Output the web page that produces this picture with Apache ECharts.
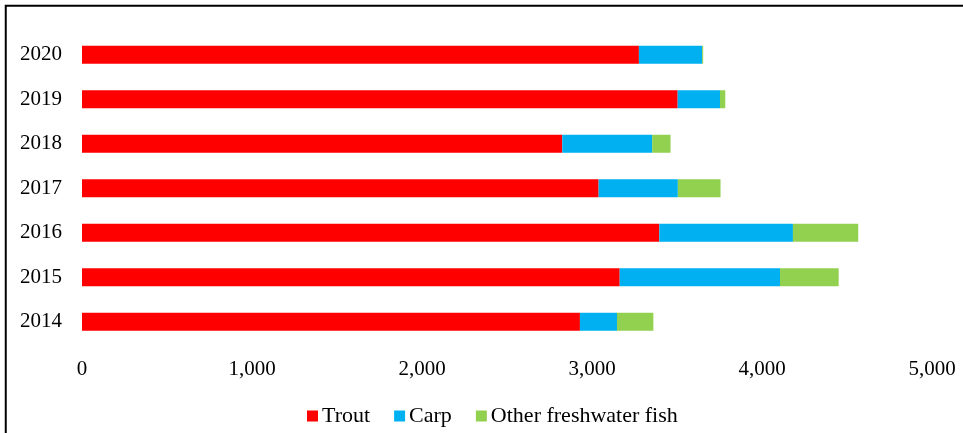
<!DOCTYPE html>
<html>
<head>
<meta charset="utf-8">
<script src="https://cdn.jsdelivr.net/npm/echarts@6/dist/echarts.min.js"></script>
<style>
  html, body { margin: 0; padding: 0; background: #fff; }
  #chart { width: 963px; height: 433px; }
</style>
</head>
<body>
<div id="chart"></div>
<script>
const years = ['2014', '2015', '2016', '2017', '2018', '2019', '2020'];
const trout = [2929, 3163, 3396, 3039, 2825, 3504, 3276];
const carp = [218, 943, 786, 466, 529, 249, 372];
const otherFish = [214, 345, 384, 251, 108, 31, 6];
const xTicks = [0, 1000, 2000, 3000, 4000, 5000];

const colors = ['#FF0000', '#00B0F0', '#92D050'];
const font = '"Liberation Serif", "Times New Roman", serif';

const chart = echarts.init(document.getElementById('chart'));

const barSeries = (name, data) => ({
  name: name,
  type: 'bar',
  stack: 'total',
  barWidth: 18,
  data: data
});

chart.setOption({
  color: colors,
  animation: false,
  textStyle: { fontFamily: font, color: '#000' },
  graphic: [{
    type: 'rect',
    shape: { x: 5.75, y: 5.75, width: 1200, height: 1200 },
    style: { fill: 'none', stroke: '#000', lineWidth: 2 },
    silent: true
  }],
  legend: {
    left: 302,
    top: 400,
    icon: 'rect',
    itemWidth: 11,
    itemHeight: 11,
    itemGap: 24,
    textStyle: { fontFamily: font, fontSize: 22, color: '#000', padding: [0, 0, 0, -1] },
    data: ['Trout', 'Carp', 'Other freshwater fish']
  },
  grid: { left: 82, right: 31, top: 32.5, bottom: 89 },
  xAxis: {
    type: 'value',
    min: xTicks[0],
    max: xTicks[xTicks.length - 1],
    interval: 1000,
    axisLine: { show: false },
    axisTick: { show: false },
    splitLine: { show: false },
    axisLabel: {
      margin: 15,
      fontFamily: font,
      fontSize: 21,
      color: '#000',
      formatter: v => v.toLocaleString('en-US')
    }
  },
  yAxis: {
    type: 'category',
    data: years,
    axisLine: { show: false },
    axisTick: { show: false },
    axisLabel: { margin: 20, fontFamily: font, fontSize: 21, color: '#000' }
  },
  series: [
    barSeries('Trout', trout),
    barSeries('Carp', carp),
    barSeries('Other freshwater fish', otherFish)
  ]
});
</script>
</body>
</html>
